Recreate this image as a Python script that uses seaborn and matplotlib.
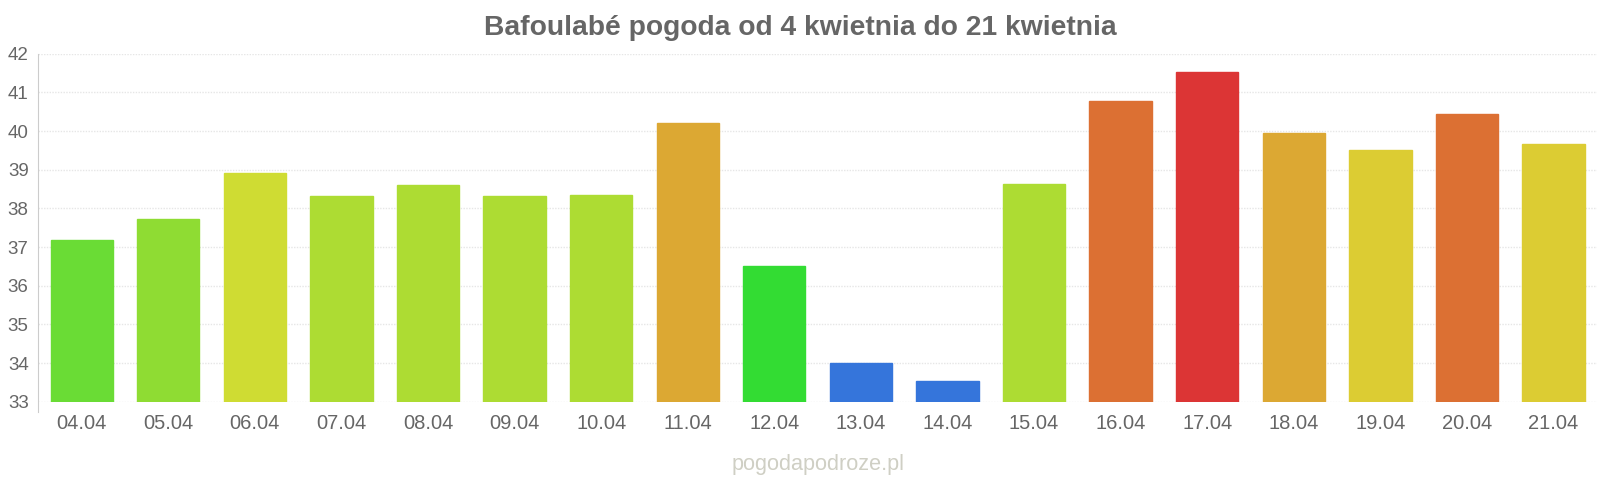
import seaborn as sns
import pandas as pd
import matplotlib.pyplot as plt

# daily max temperature, Bafoulabe, 4-21 April
dates = ['04.04', '05.04', '06.04', '07.04', '08.04', '09.04', '10.04', '11.04', '12.04',
         '13.04', '14.04', '15.04', '16.04', '17.04', '18.04', '19.04', '20.04', '21.04']
temps = [37.18, 37.72, 38.91, 38.31, 38.6, 38.31, 38.35, 40.22, 36.5,
         33.99, 33.53, 38.62, 40.79, 41.54, 39.96, 39.51, 40.45, 39.67]
colors = ['#6adc35', '#8fdc33', '#cfdc33', '#addc33', '#addc33', '#addc33', '#addc33', '#dca833', '#33dc33',
          '#3575db', '#3575db', '#addc33', '#dc7033', '#dc3535', '#dca833', '#dccc33', '#dc7033', '#dccc33']
yticks = list(range(33, 43))

df = pd.DataFrame({'date': dates, 'temp': temps})

sns.set_style('white')
plt.rcParams['font.family'] = ['Liberation Sans', 'DejaVu Sans']

fig = plt.figure(figsize=(16, 4.8), dpi=100)
ax = fig.add_axes([0.024, 0.163, 0.974, 0.725])

sns.barplot(data=df, x='date', y='temp', hue='date', palette=colors, legend=False,
            width=0.72, saturation=1, ax=ax, zorder=3)
for bar, c in zip(ax.patches, colors):
    bar.set_edgecolor(c)
    bar.set_linewidth(1)

ax.set_ylim(33, 42)
ax.set_xlim(-0.5, len(dates) - 0.5)
ax.set_yticks(yticks)
ax.grid(axis='y', color='#e6e6e6', linewidth=1, linestyle=(0, (1, 1)), zorder=0)
ax.set_xlabel('')
ax.set_ylabel('')
ax.tick_params(axis='both', length=0, labelcolor='#666666')
ax.tick_params(axis='x', labelsize=14.5, pad=9)
ax.tick_params(axis='y', labelsize=13.5, pad=7)

for s in ['top', 'right', 'bottom']:
    ax.spines[s].set_visible(False)
ax.spines['left'].set_color('#cccccc')
ax.spines['left'].set_bounds(32.74, 42)

fig.text(0.5, 0.942, 'Bafoulabé pogoda od 4 kwietnia do 21 kwietnia', ha='center', va='center',
         fontsize=20.3, fontweight='bold', color='#666666')
fig.text(0.511, 0.033, 'pogodapodroze.pl', ha='center', va='center', fontsize=15.6, color='#cfcfc4')

fig.savefig('out.png', dpi=100)
